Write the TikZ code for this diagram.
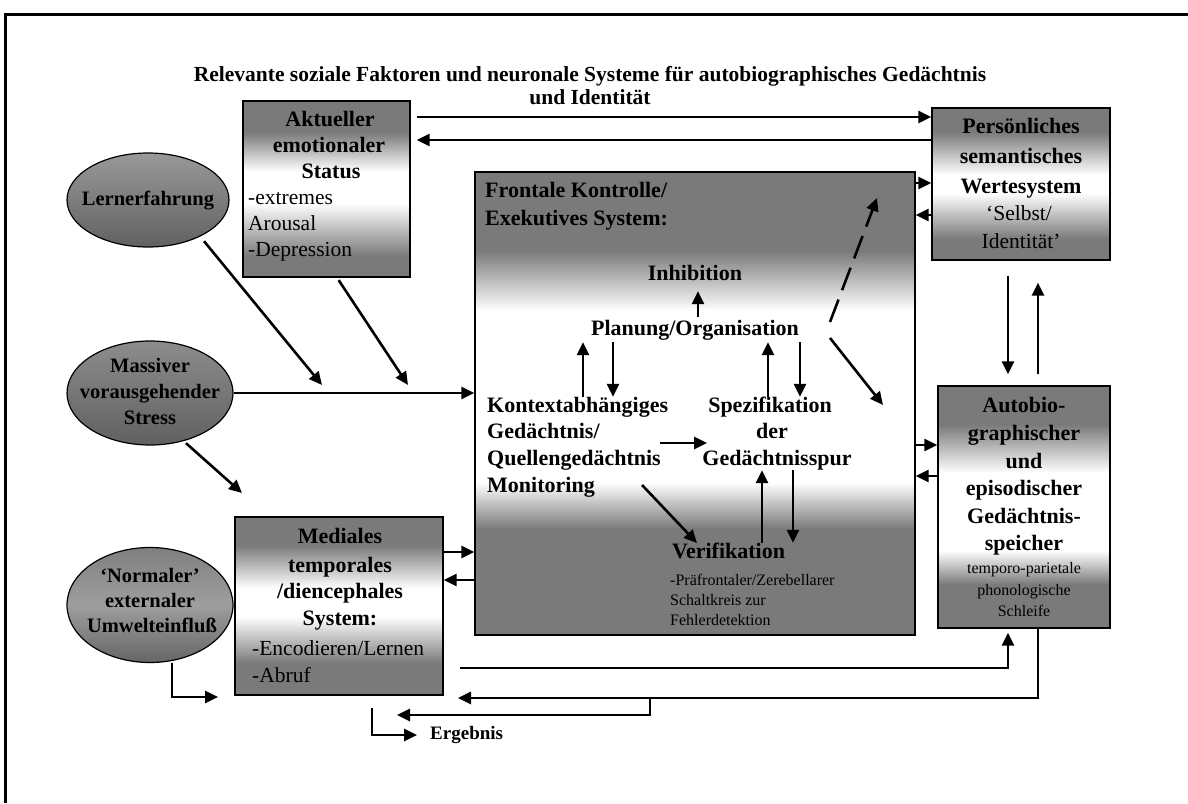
\documentclass[tikz,border=0pt]{standalone}
\usepackage{fontspec}
\setmainfont{Liberation Serif}
\usetikzlibrary{arrows.meta,calc,shapes.geometric}

\colorlet{dk}{black!52}
% vertical shadings: dark at top and bottom, a white band in between
% (the path is fitted to the 25bp--75bp part of each shading)
\pgfdeclareverticalshading{shAkt}{100bp}{color(0bp)=(dk); color(31bp)=(dk); color(46bp)=(white); color(55bp)=(white); color(66bp)=(dk); color(100bp)=(dk)}
\pgfdeclareverticalshading{shPers}{100bp}{color(0bp)=(dk); color(32bp)=(dk); color(47bp)=(white); color(53bp)=(white); color(67bp)=(dk); color(100bp)=(dk)}
\pgfdeclareverticalshading{shFront}{100bp}{color(0bp)=(dk); color(36.5bp)=(dk); color(41.5bp)=(white); color(60bp)=(white); color(66.5bp)=(dk); color(100bp)=(dk)}
\pgfdeclareverticalshading{shAuto}{100bp}{color(0bp)=(dk); color(34bp)=(dk); color(41bp)=(white); color(57bp)=(white); color(67bp)=(dk); color(100bp)=(dk)}
\pgfdeclareverticalshading{shMed}{100bp}{color(0bp)=(dk); color(34bp)=(dk); color(47bp)=(white); color(55bp)=(white); color(67bp)=(dk); color(100bp)=(dk)}

\begin{document}
\begin{tikzpicture}[x=1pt,y=-1pt,
  box/.style={draw=black, line width=1.3pt, rectangle, inner sep=0pt},
  oval/.style={draw=black, line width=1.2pt, ellipse, inner sep=0pt},
  tt/.style={font=\fontsize{21.5}{24}\selectfont\bfseries, inner sep=0pt, text height=15pt, text depth=4.5pt},
  bt/.style={font=\fontsize{22}{26}\selectfont\bfseries, inner sep=0pt, text height=15.5pt, text depth=4.5pt},
  rt/.style={font=\fontsize{21.5}{26}\selectfont, inner sep=0pt, text height=15pt, text depth=4.5pt},
  st/.style={font=\fontsize{16}{20}\selectfont, inner sep=0pt, text height=11pt, text depth=3.5pt},
  et/.style={font=\fontsize{20.5}{24}\selectfont\bfseries, inner sep=0pt, text height=14.5pt, text depth=4.3pt},
  arr/.style={line width=2.6pt, -{Triangle[length=13pt,width=12pt]}},
  dasharr/.style={arr, dash pattern=on 24pt off 10pt},
]
\useasboundingbox (0,0) rectangle (1188,803);

% frame
\draw[line width=3pt] (5,803) -- (5,14) -- (1188,14);

% title
\node[tt] (title1) at (590,76) {Relevante soziale Faktoren und neuronale Systeme für autobiographisches Gedächtnis};
\node[tt] (title2) at (590,99) {und Identität};

% ---- boxes ----
\node[box, shading=shAkt, minimum width=167pt, minimum height=176pt] (akt) at (326.5,189) {};
\node[box, shading=shPers, minimum width=178pt, minimum height=152pt] (pers) at (1021,184) {};
\node[box, shading=shFront, minimum width=440pt, minimum height=463pt] (front) at (695,403.5) {};
\node[box, shading=shAuto, minimum width=172pt, minimum height=242pt] (auto) at (1024,507) {};
\node[box, shading=shMed, minimum width=208pt, minimum height=178pt] (med) at (339,606) {};

% ---- ellipses ----
\node[oval, minimum width=162pt, minimum height=94pt, top color=black!40, bottom color=black!62] (lern) at (148,200) {};
\node[oval, minimum width=166pt, minimum height=104pt, top color=black!45, bottom color=black!62] (mass) at (150,393) {};
\node[oval, minimum width=166pt, minimum height=115pt, top color=black!50, bottom color=black!60, middle color=black!38] (norm) at (150,605) {};

% ---- texts ----
\node[et] (lernt) at (148,200) {Lernerfahrung};
\node[et] (mass1) at (150,367) {Massiver};
\node[et] (mass2) at (150,393) {vorausgehender};
\node[et] (mass3) at (150,419) {Stress};
\node[et] (norm1) at (150,577) {‘Normaler’};
\node[et] (norm2) at (150,602) {externaler};
\node[et] (norm3) at (152,627) {Umwelteinfluß};

\node[bt] (akt1) at (330,121) {Aktueller};
\node[bt] (akt2) at (329,147) {emotionaler};
\node[bt] (akt3) at (331,173) {Status};
\node[rt, anchor=west] (akt4) at (248,199) {-extremes};
\node[rt, anchor=west] (akt5) at (248,225) {Arousal};
\node[rt, anchor=west] (akt6) at (248,251) {-Depression};

\node[bt] (pers1) at (1021,128) {Persönliches};
\node[bt] (pers2) at (1021,158) {semantisches};
\node[bt] (pers3) at (1021,188) {Wertesystem};
\node[rt] (pers4) at (1019,215) {‘Selbst/};
\node[rt] (pers5) at (1021,243) {Identität’};

\node[bt, anchor=west] (f1) at (485,192) {Frontale Kontrolle/};
\node[bt, anchor=west] (f2) at (485,220) {Exekutives System:};
\node[bt] (inhib) at (695,275) {Inhibition};
\node[bt] (plan) at (695,330) {Planung/Organisation};
\node[bt, anchor=west] (k1) at (487,407) {Kontextabhängiges};
\node[bt, anchor=west] (k2) at (487,433) {Gedächtnis/};
\node[bt, anchor=west] (k3) at (487,460) {Quellengedächtnis};
\node[bt, anchor=west] (k4) at (487,487) {Monitoring};
\node[bt] (s1) at (770,407) {Spezifikation};
\node[bt] (s2) at (772,433) {der};
\node[bt] (s3) at (777,460) {Gedächtnisspur};
\node[bt, anchor=west] (verif) at (672,553) {Verifikation};
\node[st, anchor=west] (v1) at (670,582) {-Präfrontaler/Zerebellarer};
\node[st, anchor=west] (v2) at (670,602) {Schaltkreis zur};
\node[st, anchor=west] (v3) at (670,622) {Fehlerdetektion};

\node[bt] (auto1) at (1024,407) {Autobio-};
\node[bt] (auto2) at (1024,435) {graphischer};
\node[bt] (auto3) at (1024,463) {und};
\node[bt] (auto4) at (1024,490) {episodischer};
\node[bt] (auto5) at (1024,518) {Gedächtnis-};
\node[bt] (auto6) at (1024,545) {speicher};
\node[st] (auto7) at (1024,570) {temporo-parietale};
\node[st] (auto8) at (1024,592) {phonologische};
\node[st] (auto9) at (1024,613) {Schleife};

\node[bt] (med1) at (340,538) {Mediales};
\node[bt] (med2) at (340,567) {temporales};
\node[bt] (med3) at (340,593) {/diencephales};
\node[bt] (med4) at (340,620) {System:};
\node[rt, anchor=west] (med5) at (252,650) {-Encodieren/Lernen};
\node[rt, anchor=west] (med6) at (252,677) {-Abruf};

\node[font=\fontsize{19}{21}\selectfont\bfseries, inner sep=0pt, anchor=west, text height=13.5pt, text depth=4pt] (erg) at (430,735) {Ergebnis};

% ---- free arrow ends ----
\coordinate (t1) at (322,385);
\coordinate (t2) at (408,385);
\coordinate (t3) at (242,493);
\coordinate (t4) at (218,697);
\coordinate (ret) at (458,698);
\coordinate (br) at (650,698);
\coordinate (out2) at (397,715);
\coordinate (ks1) at (660,443);
\coordinate (ks2) at (707,443);
\coordinate (kv1) at (642,485);
\coordinate (kv2) at (697,543);
\coordinate (pd1) at (830,338);
\coordinate (pd2) at (883,405);
\coordinate (pu1) at (830,322);
\coordinate (pu2) at (877,198);

% ---- connectors ----
\draw[arr, shorten <=6pt] (akt.east |- 0,117) -- (pers.west |- 0,117);
\draw[arr, shorten >=6pt] (pers.west |- 0,140) -- (akt.east |- 0,140);

\draw[arr, shorten <=6pt] (lern.-35) -- (t1);
\draw[arr, shorten <=3pt] (akt.south -| 337,0) -- (t2);
\draw[arr] (mass.east) -- (front.west |- mass.east);
\draw[arr, shorten <=3pt] (mass.-55) -- (t3);
\draw[arr] (norm.south -| 172,0) |- (t4);

\draw[arr] (front.east |- 0,183) -- (pers.west |- 0,183);
\draw[arr] (pers.west |- 0,215) -- (front.east |- 0,215);
\draw[arr] (front.east |- 0,445) -- (auto.west |- 0,445);
\draw[arr] (auto.west |- 0,476) -- (front.east |- 0,476);
\draw[arr] (med.east |- 0,552) -- (front.west |- 0,552);
\draw[arr] (front.west |- 0,580) -- (med.east |- 0,580);

\draw[arr, shorten <=15pt, shorten >=11pt] (pers.south -| 1008,0) -- (auto.north -| 1008,0);
\draw[arr, shorten <=11pt, shorten >=22pt] (auto.north -| 1038,0) -- (pers.south -| 1038,0);

\draw[arr, shorten <=16pt, shorten >=4pt] (med.east |- 0,668) -| (auto.south -| 1008,0);
\draw[arr] (auto.south -| 1038,0) |- (ret);
\draw[arr] (br) |- (out2);
\draw[arr, shorten <=12pt, shorten >=13pt] (med.south -| 372,0) |- (erg.west);

% inside the executive system
\draw[arr, shorten <=3pt, shorten >=6pt] (plan.north -| 698,0) -- (inhib.south -| 698,0);
\draw[arr, shorten >=2pt] (k1.north -| 583,0) -- (plan.south -| 583,0);
\draw[arr, shorten <=2pt] (plan.south -| 613,0) -- (k1.north -| 613,0);
\draw[arr, shorten >=2pt] (s1.north -| 768,0) -- (plan.south -| 768,0);
\draw[arr, shorten <=2pt] (plan.south -| 800,0) -- (s1.north -| 800,0);
\draw[arr] (ks1) -- (ks2);
\draw[arr] (kv1) -- (kv2);
\draw[arr] (verif.north -| 762,0) -- (s3.south -| 762,0);
\draw[arr] (s3.south -| 793,0) -- (verif.north -| 793,0);
\draw[arr] (pd1) -- (pd2);
\draw[dasharr] (pu1) -- (pu2);
\end{tikzpicture}
\end{document}
